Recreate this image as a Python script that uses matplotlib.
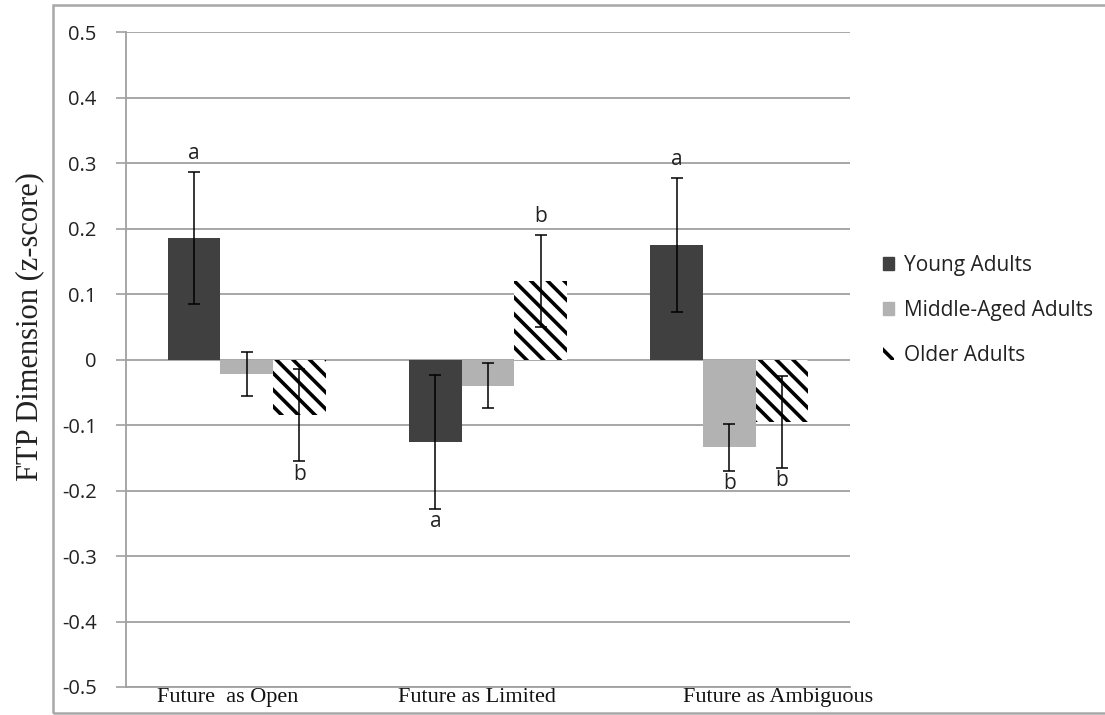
import matplotlib
matplotlib.use("Agg")
import matplotlib.pyplot as plt
import numpy as np
from matplotlib.patches import Rectangle, Patch

categories = ["Future  as Open", "Future as Limited", "Future as Ambiguous"]
series = ["Young Adults", "Middle-Aged Adults", "Older Adults"]
young = [0.185, -0.126, 0.175]
middle = [-0.022, -0.040, -0.134]
older = [-0.085, 0.120, -0.095]
young_err = [0.101, 0.102, 0.102]
middle_err = [0.034, 0.034, 0.036]
older_err = [0.070, 0.070, 0.070]
# significance letters: (category index, series index, letter, above?)
letters = [(0, 0, "a", True), (0, 2, "b", False),
           (1, 0, "a", False), (1, 2, "b", True),
           (2, 0, "a", True), (2, 1, "b", False), (2, 2, "b", False)]
yticks = [0.5, 0.4, 0.3, 0.2, 0.1, 0, -0.1, -0.2, -0.3, -0.4, -0.5]
ytick_labels = ["0.5", "0.4", "0.3", "0.2", "0.1", "0", "-0.1", "-0.2", "-0.3", "-0.4", "-0.5"]
# category label left-edge offsets (labels are placed off-centre in the original)
label_offsets = [-0.372, -0.373, -0.19]

plt.rcParams['hatch.linewidth'] = 2.6

fig = plt.figure(figsize=(11.05, 7.15), dpi=100)
ax = fig.add_axes([126/1105, 1-687/715, (850-126)/1105, (687-32)/715])

x = np.arange(len(categories))
w = 0.218
vals = [young, middle, older]
errs = [young_err, middle_err, older_err]
colors = ["#404040", "#b2b2b2", "white"]
edges = ["#404040", "#b2b2b2", "black"]
hatches = [None, None, "\\\\"]
for k in range(3):
    pos = x + (k - 1) * w
    ax.bar(pos, vals[k], w, color=colors[k], hatch=hatches[k], edgecolor=edges[k],
           linewidth=0, zorder=2)
    ax.errorbar(pos, vals[k], yerr=errs[k], fmt="none", ecolor="black", elinewidth=1.1,
                capsize=4, capthick=1.1, zorder=3)

for (ci, si, lt, above) in letters:
    pos = ci + (si - 1) * w
    v = vals[si][ci]
    e = errs[si][ci]
    if above:
        ax.text(pos, v + e + 0.013, lt, ha="center", va="bottom", fontsize=15,
                family="Open Sans", color="#222222")
    else:
        ax.text(pos, v - e - 0.004, lt, ha="center", va="top", fontsize=15,
                family="Open Sans", color="#222222")

ax.set_xlim(-0.5, 2.5)
ax.set_ylim(-0.5, 0.5)
ax.set_yticks(yticks)
ax.set_yticklabels(ytick_labels, family="Open Sans", fontsize=14.5, color="#222222")
ax.set_xticks(x)
ax.set_xticklabels([])
for i, c in enumerate(categories):
    ax.text(i + label_offsets[i], -0.5 - 0.002, c, ha="left", va="top",
            family="Liberation Serif", fontsize=16, color="#111111")
ax.tick_params(axis="x", length=0)
ax.tick_params(axis="y", length=7, width=1.2, color="#a0a0a0", pad=14)
ax.yaxis.grid(True, color="#a0a0a0", linewidth=1.3, zorder=0)
ax.set_axisbelow(True)
for s in ["top", "right"]:
    ax.spines[s].set_visible(False)
ax.spines["left"].set_color("#a0a0a0")
ax.spines["left"].set_linewidth(1.3)
ax.spines["bottom"].set_color("#a0a0a0")
ax.spines["bottom"].set_linewidth(1.3)
fig.text(30/1105, 1-327/715, "FTP Dimension (z-score)", family="Liberation Serif",
         fontsize=22, color="#222222", rotation=90, ha="center", va="center")

handles = [Patch(facecolor=colors[0], edgecolor=colors[0]),
           Patch(facecolor=colors[1], edgecolor=colors[1]),
           Patch(facecolor="white", edgecolor="black", linewidth=0, hatch="\\\\")]
leg = fig.legend(handles, series, loc="upper left", bbox_to_anchor=(864/1105, 1-236/715),
                 frameon=False, prop={"family": "Open Sans", "size": 15},
                 handlelength=0.55, handleheight=0.55, handletextpad=0.45, labelspacing=1.15)
for t in leg.get_texts():
    t.set_color("#222222")

frame = Rectangle((53/1105, 1-713/715), 1.2, (713-5)/715, transform=fig.transFigure,
                  fill=False, edgecolor="#a8a8a8", linewidth=1.8)
fig.add_artist(frame)

fig.savefig("out.png", dpi=100)
